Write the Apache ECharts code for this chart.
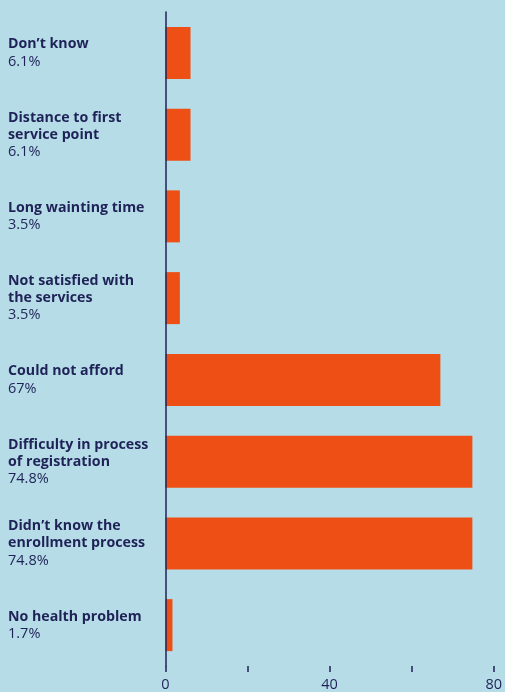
<!DOCTYPE html>
<html>
<head>
<meta charset="utf-8">
<script src="https://cdn.jsdelivr.net/npm/echarts@6/dist/echarts.min.js"></script>
<style>
  html, body { margin: 0; padding: 0; background: #b6dde7; }
  #chart { width: 505px; height: 692px; }
</style>
</head>
<body>
<div id="chart"></div>
<script>
// Reasons given, top to bottom
const reasons = [
  "Don’t know",
  "Distance to first\nservice point",
  "Long wainting time",
  "Not satisfied with\nthe services",
  "Could not afford",
  "Difficulty in process\nof registration",
  "Didn’t know the\nenrollment process",
  "No health problem"
];
// Share of respondents (%)
const shares = [6.1, 6.1, 3.5, 3.5, 67, 74.8, 74.8, 1.7];
// Percentage text shown under each reason
const shareLabels = ["6.1%", "6.1%", "3.5%", "3.5%", "67%", "74.8%", "74.8%", "1.7%"];
// Value axis tick labels
const xTickLabels = ["0", "40", "80"];

const navy = "#1f2257";
const orange = "#ed4f14";

const chart = echarts.init(document.getElementById("chart"), null, { renderer: "canvas" });

chart.setOption({
  backgroundColor: "#b6dde7",
  animation: false,
  grid: { left: 165.5, right: 9, top: 12, bottom: 26, containLabel: false },
  xAxis: {
    type: "value",
    min: 0,
    max: 80,
    interval: 20,
    splitLine: { show: false },
    axisLine: { show: false },
    axisTick: { show: true, length: 6, lineStyle: { color: navy, width: 1.5 } },
    axisLabel: {
      color: navy,
      fontFamily: "Open Sans",
      fontSize: 14.5,
      margin: 11,
      formatter: v => (xTickLabels.includes(String(v)) ? String(v) : "")
    }
  },
  yAxis: {
    type: "category",
    inverse: true,
    data: reasons,
    z: 5,
    axisLine: { show: true, lineStyle: { color: navy, width: 1.5 } },
    axisTick: { show: false },
    axisLabel: {
      align: "left",
      margin: 157.5,
      formatter: (value, idx) => {
        const lines = value.split("\n").map(l => "{b|" + l + "}");
        return lines.join("\n") + "\n{v|" + shareLabels[idx] + "}";
      },
      rich: {
        b: { fontFamily: "Open Sans", fontWeight: "bold", fontSize: 14.2, color: navy, lineHeight: 17 },
        v: { fontFamily: "Open Sans", fontWeight: "normal", fontSize: 14.5, color: navy, lineHeight: 17 }
      }
    }
  },
  series: [{
    type: "bar",
    data: shares,
    barWidth: 52,
    itemStyle: { color: orange },
    label: { show: false }
  }]
});
</script>
</body>
</html>
